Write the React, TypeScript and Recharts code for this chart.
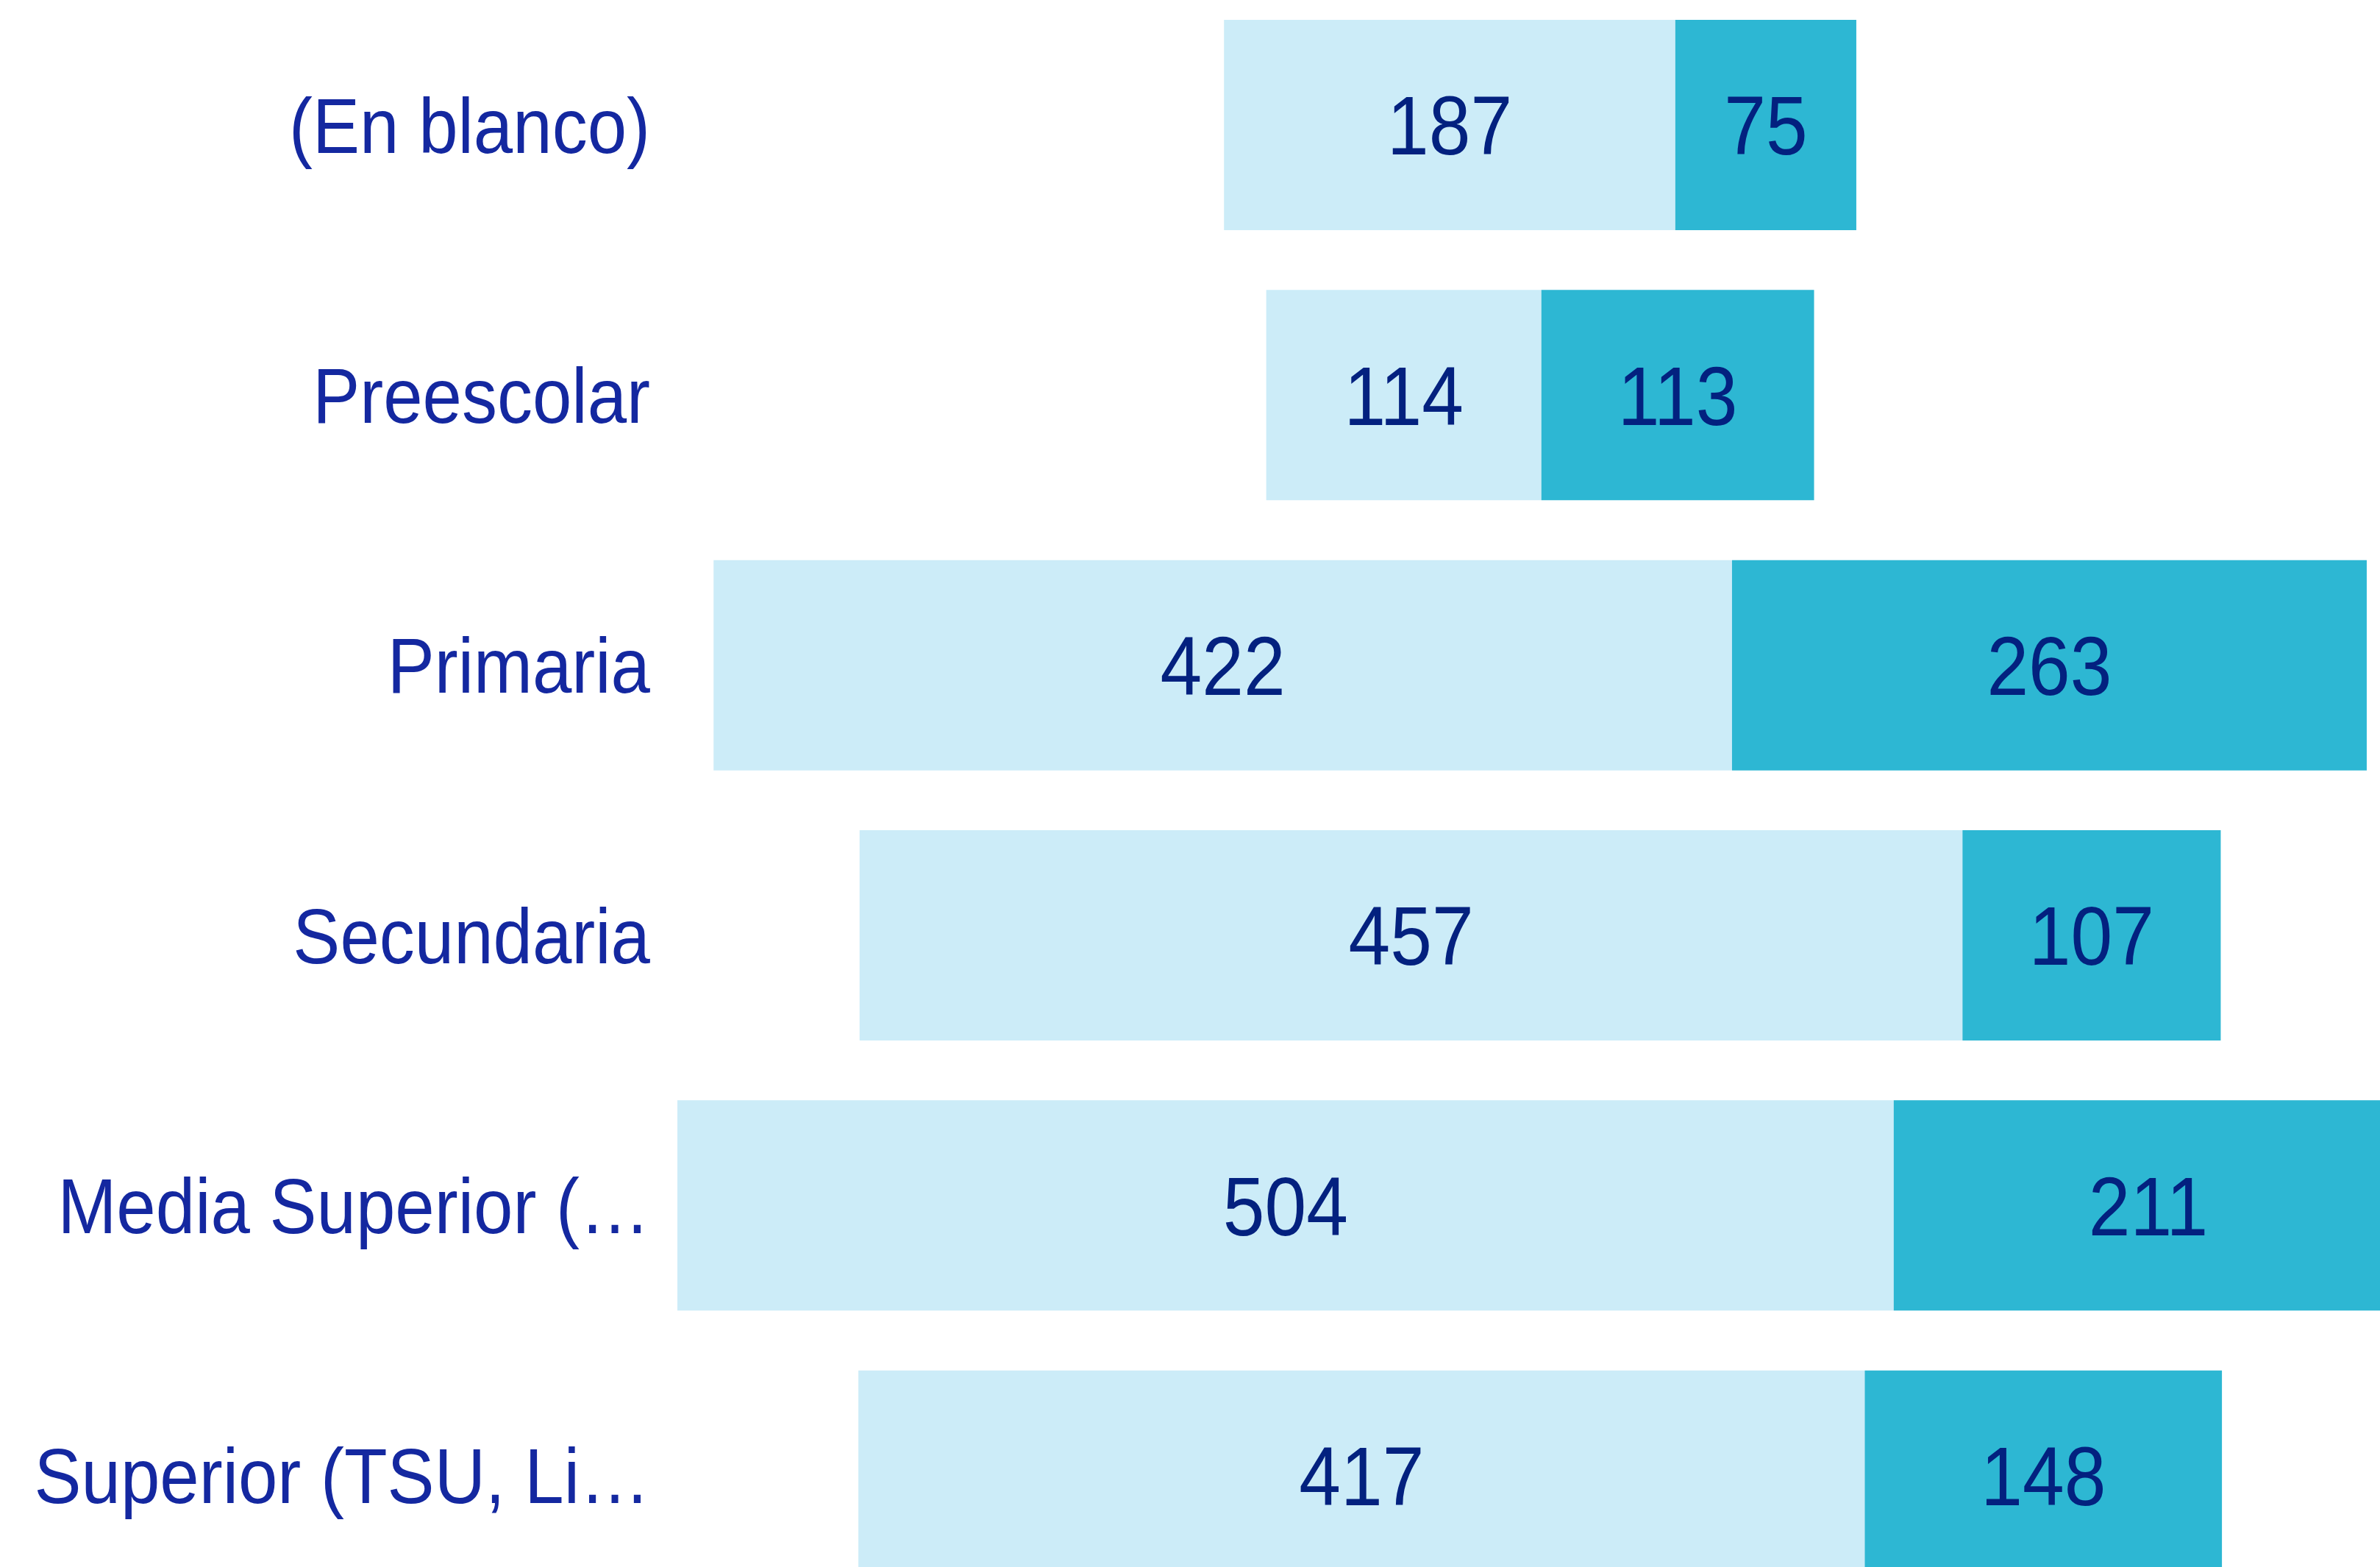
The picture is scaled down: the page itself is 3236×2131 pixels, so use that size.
import { BarChart, Bar, XAxis, YAxis, LabelList } from "recharts";

const categories = [
  "(En blanco)",
  "Preescolar",
  "Primaria",
  "Secundaria",
  "Media Superior (…",
  "Superior (TSU, Li…",
];
const lightValues = [187, 114, 422, 457, 504, 417];
const darkValues = [75, 113, 263, 107, 211, 148];

const LIGHT = "#CCECF8";
const DARK = "#2DB7D3";
const VALUE_COLOR = "#03217F";
const TICK_COLOR = "#1428A0";
const FONT = "'Liberation Sans', Arial, sans-serif";

const totals = categories.map((_, i) => lightValues[i] + darkValues[i]);
const maxTotal = Math.max(...totals);

// invisible spacer so each stacked bar is centred on maxTotal / 2
const data = categories.map((name, i) => ({
  name,
  pad: (maxTotal - totals[i]) / 2,
  light: lightValues[i],
  dark: darkValues[i],
}));

function CategoryTick(props: any) {
  const { y, payload } = props;
  return (
    <text
      transform={`translate(884, ${y}) scale(1, 1.1)`}
      dy="0.36em"
      textAnchor="end"
      fill={TICK_COLOR}
      fontFamily={FONT}
      fontSize={96}
    >
      {payload.value}
    </text>
  );
}

function ValueLabel(props: any) {
  const { x, y, width, height, value } = props;
  const cx = Number(x) + Number(width) / 2;
  const cy = Number(y) + Number(height) / 2;
  return (
    <text
      transform={`translate(${cx}, ${cy}) scale(1, 1.1)`}
      dy="0.36em"
      textAnchor="middle"
      fill={VALUE_COLOR}
      fontFamily={FONT}
      fontSize={102}
    >
      {value}
    </text>
  );
}

export default function App() {
  return (
    <div
      style={{
        position: "absolute",
        left: 0,
        top: 0,
        width: 3236,
        height: 2131,
        overflow: "hidden",
        background: "#fff",
      }}
    >
      <div style={{ position: "relative", top: -14 }}>
        <BarChart
          layout="vertical"
          width={3300}
          height={2204}
          data={data}
          margin={{ top: 0, right: 0, bottom: 0, left: 0 }}
        >
          <XAxis type="number" domain={[0, 725]} hide />
          <YAxis
            type="category"
            dataKey="name"
            width={921}
            axisLine={false}
            tickLine={false}
            interval={0}
            tick={<CategoryTick />}
          />
          <Bar
            dataKey="pad"
            stackId="a"
            fill="transparent"
            barSize={286}
            isAnimationActive={false}
          />
          <Bar
            dataKey="light"
            stackId="a"
            fill={LIGHT}
            barSize={286}
            isAnimationActive={false}
          >
            <LabelList dataKey="light" content={<ValueLabel />} />
          </Bar>
          <Bar
            dataKey="dark"
            stackId="a"
            fill={DARK}
            barSize={286}
            isAnimationActive={false}
          >
            <LabelList dataKey="dark" content={<ValueLabel />} />
          </Bar>
        </BarChart>
      </div>
    </div>
  );
}
